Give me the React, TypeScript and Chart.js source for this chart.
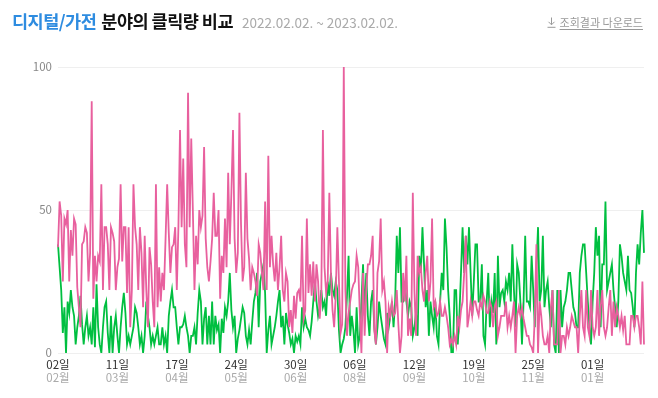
import React, { useEffect, useRef } from 'react';
import { Chart, registerables } from 'chart.js';

Chart.register(...registerables);

// ---- categories / ticks ----
const START_DATE = '2022-02-02';
const DAY_COUNT = 366;
const TICK_STEP = 37;
const DAY_TICKS = ['02일', '11일', '17일', '24일', '30일', '06일', '12일', '19일', '25일', '01일'];
const MONTH_TICKS = ['02월', '03월', '04월', '05월', '06월', '08월', '09월', '10월', '11월', '01월'];
const Y_MIN = 0;
const Y_MAX = 100;
const Y_STEP = 50;

// ---- series (daily relative clicks) ----
const SERIES_PINK = [
  37, 53, 48, 25, 47, 45, 50, 25, 43, 34,
  47, 45, 23, 16, 9, 38, 39, 44, 42, 25,
  35, 88, 19, 34, 25, 34, 32, 59, 22, 44,
  44, 38, 22, 44, 42, 39, 22, 30, 33, 59,
  32, 44, 44, 21, 44, 9, 22, 59, 44, 38,
  22, 44, 35, 16, 41, 22, 9, 37, 31, 18,
  9, 59, 16, 30, 18, 28, 22, 40, 59, 42,
  28, 37, 38, 44, 22, 44, 78, 44, 68, 38,
  30, 91, 44, 75, 50, 22, 41, 31, 50, 44,
  48, 72,
  40, 30, 25, 32, 40, 56, 41, 41, 50, 19,
  34, 28, 47, 30, 63, 38, 56, 78, 40, 28,
  35, 84, 45, 25, 30, 63, 40, 33, 22, 30,
  28, 25, 20, 38, 35, 28, 22, 53, 22, 69,
  30, 41, 31, 25, 35, 22, 30, 41, 22, 18,
  28, 25, 9, 15, 7, 20, 12, 21, 22, 18,
  41, 12, 15, 47, 21, 31, 20, 32, 18, 31,
  25, 12, 20, 78, 30, 21, 25, 56, 28, 15,
  9, 20, 44, 25, 7, 10, 100,
  22, 6, 14, 18, 22, 24, 25, 34, 30, 14,
  0, 28, 6, 22, 31, 31, 34, 41, 8, 3,
  28, 32, 47, 22, 25, 18, 0, 16, 13, 18,
  13, 14, 22, 10, 0, 6, 28, 18, 34, 6,
  12, 6, 56, 22, 6, 34, 28, 30, 22, 18,
  28, 34, 18, 25, 47, 16, 18, 13, 14, 18,
  13, 13, 16, 13, 9, 3, 5, 3, 6, 3,
  13, 9, 15, 18, 28, 41, 9, 13, 18, 13,
  18, 18, 15, 13, 18, 16, 20, 18, 14,
  14, 18, 16, 9, 16, 18, 6, 9, 13, 13,
  13, 18, 9, 13, 9, 13, 18, 0, 13, 16,
  13, 16, 12, 9, 6, 6, 3, 2, 0, 13,
  38, 0, 18, 13, 6, 3, 3, 6, 0, 16,
  22, 3, 3, 3, 22, 0, 6, 6, 3, 9,
  6, 9, 13, 11, 9, 9, 0, 13, 22, 9,
  6, 22, 9, 6, 22, 9, 6, 9, 22, 6,
  16, 22, 9, 6, 9, 16, 22, 6, 18, 9,
  16, 13, 9, 13, 8, 13, 3, 3, 3, 13,
  13, 9, 13, 13, 9, 3, 25, 3,
];

const SERIES_GREEN = [
  38, 30, 22, 7, 16, 0, 18, 14, 22, 16,
  13, 3, 9, 13, 20, 10, 3, 9, 13, 6,
  9, 3, 16, 2, 24, 9, 3, 0, 9, 16,
  18, 7, 0, 13, 0, 9, 13, 6, 0, 9,
  16, 21, 14, 3, 6, 3, 6, 9, 16, 14,
  9, 3, 6, 0, 6, 18, 13, 9, 3, 6,
  3, 6, 9, 3, 3, 9, 3, 6, 0, 13,
  18, 22, 16, 16, 9, 3, 9, 9, 10, 13,
  9, 6, 0, 6, 6, 9, 3, 14, 22, 18,
  3, 12,
  16, 3, 13, 3, 18, 3, 13, 8, 10, 0,
  12, 7, 16, 13, 18, 28, 15, 9, 13, 0,
  5, 8, 12, 16, 14, 6, 3, 8, 3, 11,
  18, 21, 28, 9, 25, 28, 31, 21, 0, 8,
  13, 3, 6, 9, 13, 18, 22, 9, 13, 3,
  14, 10, 7, 3, 5, 0, 6, 4, 6, 3,
  16, 9, 12, 9, 8, 6, 11, 18, 25, 18,
  13, 16, 22, 16, 18, 13, 25, 20, 28, 22,
  20, 25, 22, 8, 0, 3, 5, 9, 20, 34,
  6, 13, 8, 0, 16, 3, 6, 18, 31, 13,
  28, 13, 6, 18, 22, 9, 3, 9, 18, 13,
  9, 5, 3, 14, 9, 13, 18, 9, 18, 41,
  28, 44, 18, 18, 25, 18, 13, 18, 16, 6,
  9, 14, 6, 34, 28, 44, 31, 16, 22, 6,
  18, 13, 9, 18, 6, 3, 18, 28, 22, 47,
  37, 22, 13, 0, 0, 22, 22, 3, 13, 28,
  44, 28, 41, 31, 44, 28, 13, 25, 38, 38,
  18, 18, 31, 6, 3, 18, 28,
  9, 18, 14, 28, 3, 34, 16, 21, 22, 18,
  25, 22, 28, 18, 38, 22, 9, 31, 28, 18,
  3, 18, 41, 18, 18, 16, 34, 22, 9, 30,
  44, 18, 22, 41, 16, 22, 25, 16, 9, 22,
  3, 0, 22, 0, 22, 9, 16, 18, 22, 28,
  28, 22, 16, 14, 9, 9, 28, 34, 38, 38,
  28, 18, 9, 3, 18, 28, 44, 34, 41, 9,
  31, 31, 53, 22, 25, 28, 31, 22, 16, 9,
  18, 38, 34, 28, 25, 22, 34, 22, 21, 16,
  9, 28, 38, 31, 42, 50, 35,
];

const PINK = '#e8609e';
const GREEN = '#00bf40';
const FONT = "'Noto Sans CJK KR', 'Noto Sans', sans-serif";

function buildDates(): string[] {
  const out: string[] = [];
  const start = new Date(START_DATE + 'T00:00:00Z').getTime();
  for (let i = 0; i < DAY_COUNT; i++) {
    const d = new Date(start + i * 86400000);
    const mm = String(d.getUTCMonth() + 1).padStart(2, '0');
    const dd = String(d.getUTCDate()).padStart(2, '0');
    out.push(`${d.getUTCFullYear()}.${mm}.${dd}`);
  }
  return out;
}

export default function App() {
  const canvasRef = useRef<HTMLCanvasElement>(null);

  useEffect(() => {
    document.body.style.margin = '0';
    const labels = buildDates();
    const chart = new Chart(canvasRef.current as HTMLCanvasElement, {
      type: 'line',
      data: {
        labels,
        datasets: [
          {
            label: '키워드 1',
            data: SERIES_PINK,
            borderColor: PINK,
            backgroundColor: PINK,
            borderWidth: 1.8,
            pointRadius: 0,
            tension: 0,
            fill: false,
            xAxisID: 'x',
            yAxisID: 'y',
          },
          {
            label: '키워드 2',
            data: SERIES_GREEN,
            borderColor: GREEN,
            backgroundColor: GREEN,
            borderWidth: 1.8,
            pointRadius: 0,
            tension: 0,
            fill: false,
            xAxisID: 'x',
            yAxisID: 'y',
          },
        ],
      },
      options: {
        responsive: false,
        animation: false,
        layout: { padding: { top: 67, right: 14, left: 0, bottom: 0 } },
        plugins: { legend: { display: false }, tooltip: { enabled: false } },
        scales: {
          x: {
            type: 'category',
            position: 'bottom',
            weight: 0,
            offset: false,
            grid: { display: false, drawTicks: false },
            border: { display: false },
            ticks: {
              autoSkip: false,
              maxRotation: 0,
              minRotation: 0,
              padding: 5,
              color: '#333333',
              font: { family: FONT, size: 11.5 },
              callback: (_v: any, i: number) => (i % TICK_STEP === 0 ? DAY_TICKS[i / TICK_STEP] : ''),
            },
            afterFit: (s: any) => { s.height = 18; },
          },
          x2: {
            type: 'category',
            position: 'bottom',
            weight: 1,
            offset: false,
            grid: { display: false, drawTicks: false },
            border: { display: false },
            ticks: {
              autoSkip: false,
              maxRotation: 0,
              minRotation: 0,
              padding: 0,
              color: '#aaaaaa',
              font: { family: FONT, size: 11.5 },
              callback: (_v: any, i: number) => (i % TICK_STEP === 0 ? MONTH_TICKS[i / TICK_STEP] : ''),
            },
            afterFit: (s: any) => { s.height = 27; },
          },
          y: {
            min: Y_MIN,
            max: Y_MAX,
            ticks: {
              stepSize: Y_STEP,
              padding: 6,
              color: '#888888',
              font: { family: FONT, size: 11.5 },
            },
            grid: { color: '#efefef', drawTicks: false },
            border: { display: false },
            afterFit: (s: any) => { s.width = 58; },
          },
        },
      },
    } as any);
    return () => chart.destroy();
  }, []);

  return (
    <div style={{ position: 'relative', width: 658, height: 398, background: '#fff', fontFamily: FONT }}>
      <canvas ref={canvasRef} width={658} height={398} style={{ position: 'absolute', left: 0, top: 0, width: 658, height: 398 }} />
      <div style={{ position: 'absolute', left: 12, top: 9, height: 24, lineHeight: '24px', whiteSpace: 'nowrap', display: 'flex', alignItems: 'baseline' }}>
        <span style={{ fontSize: 17.5, fontWeight: 700, color: '#2e8ce0', letterSpacing: -0.5 }}>디지털/가전</span>
        <span style={{ fontSize: 17.5, fontWeight: 700, color: '#111', letterSpacing: -0.5, marginLeft: 5 }}>분야의 클릭량 비교</span>
        <span style={{ fontSize: 13.5, fontWeight: 400, color: '#aaaaaa', marginLeft: 9 }}>2022.02.02. ~ 2023.02.02.</span>
      </div>
      <div style={{ position: 'absolute', right: 15, top: 13, height: 18, lineHeight: '18px', whiteSpace: 'nowrap', display: 'flex', alignItems: 'center', color: '#999', fontSize: 11 }}>
        <svg width="9" height="11" viewBox="0 0 9 11" style={{ marginRight: 4 }}>
          <path d="M4.5 0.5 V7.5 M1.5 4.8 L4.5 7.8 L7.5 4.8 M0.5 10.3 H8.5" stroke="#999" strokeWidth="1" fill="none" />
        </svg>
        <span style={{ textDecoration: 'underline', textUnderlineOffset: 2 }}>조회결과 다운로드</span>
      </div>
    </div>
  );
}
